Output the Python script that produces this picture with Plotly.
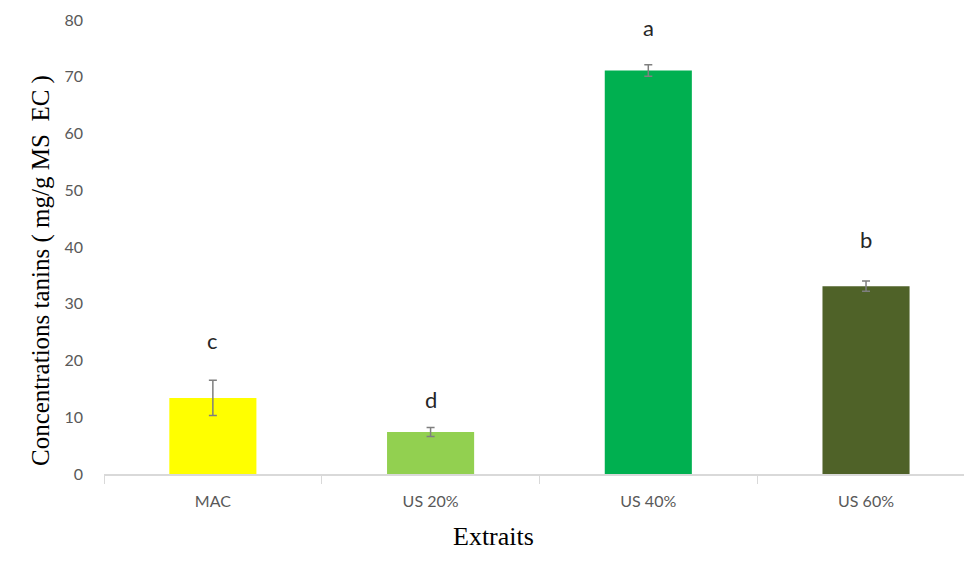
import plotly.graph_objects as go

# Tannin concentration per extract
categories = ["MAC", "US 20%", "US 40%", "US 60%"]
values = [13.4, 7.4, 71.1, 33.1]
errors = [3.1, 0.8, 1.0, 0.9]
letters = ["c", "d", "a", "b"]
letter_y = [23.6, 13.2, 78.7, 41.4]
colors = ["#ffff00", "#92d050", "#00b050", "#4f6228"]
y_ticks = [0, 10, 20, 30, 40, 50, 60, 70, 80]

fig = go.Figure()
fig.add_trace(go.Bar(
    x=categories,
    y=values,
    marker=dict(color=colors, line=dict(width=0)),
    width=0.40,
    error_y=dict(type="data", array=errors, visible=True,
                 color="#7f7f7f", thickness=1.5, width=4),
    showlegend=False,
))

for cat, ly, lt in zip(categories, letter_y, letters):
    fig.add_annotation(x=cat, y=ly, text=lt, showarrow=False,
                       font=dict(family="Lato", size=22, color="#262626"))

fig.add_annotation(text="Concentrations tanins ( mg/g MS  EC )",
                   xref="paper", yref="paper", x=-0.092, y=0.449,
                   textangle=-90, showarrow=False,
                   font=dict(family="Liberation Serif", size=25, color="#000000"))
fig.add_annotation(text="Extraits", xref="paper", yref="paper",
                   x=0.453, y=-0.174, showarrow=False,
                   font=dict(family="Liberation Serif", size=26, color="#000000"))

fig.update_layout(
    width=964, height=564,
    margin=dict(l=104, r=0, t=20, b=90),
    paper_bgcolor="white", plot_bgcolor="white",
    xaxis=dict(
        range=[-0.5, 3.45],
        showline=True, linecolor="#d9d9d9", linewidth=1.5,
        ticks="outside", tickson="boundaries", ticklen=8,
        tickcolor="#d9d9d9", tickwidth=1,
        ticklabelstandoff=12,
        tickfont=dict(family="Lato", size=16, color="#595959"),
        showgrid=False, zeroline=False,
    ),
    yaxis=dict(
        range=[0, 80], tickvals=y_ticks,
        showline=False, showgrid=False, zeroline=False,
        ticks="", ticklabelstandoff=20,
        tickfont=dict(family="Lato", size=16, color="#595959"),
    ),
)

fig.write_html("out.html")
